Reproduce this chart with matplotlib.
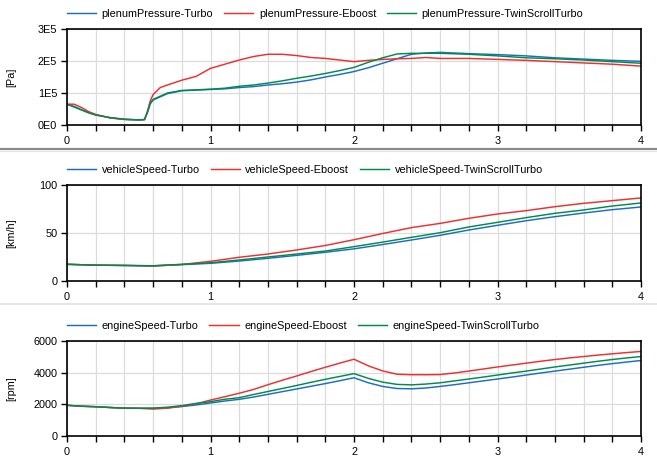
import matplotlib
matplotlib.use("Agg")
import matplotlib.pyplot as plt
from matplotlib.ticker import FixedLocator, FixedFormatter, MultipleLocator

# ---------------- data ----------------
t_pressure = [0, 0.05, 0.1, 0.15, 0.2, 0.3, 0.4, 0.5, 0.54, 0.56, 0.58, 0.6, 0.65, 0.7,
              0.8, 0.9, 1.0, 1.1, 1.2, 1.3, 1.4, 1.5, 1.6, 1.7, 1.8, 1.9, 2.0, 2.1, 2.2,
              2.3, 2.4, 2.5, 2.6, 2.8, 3.0, 3.2, 3.4, 3.6, 3.8, 4.0]
pressure_turbo = [65000, 58000, 48000, 39000, 32000, 23000, 18000, 16000, 17000, 38000,
                  66000, 78000, 88000, 98000, 107000, 109000, 111000, 113000, 117000,
                  120000, 125000, 129000, 134000, 141000, 150000, 158000, 167000, 179000,
                  193000, 207000, 221000, 225000, 227000, 223000, 220000, 216000, 210000,
                  206000, 202000, 199000]
pressure_eboost = [65000, 65000, 55000, 42000, 33000, 22000, 17000, 16000, 17000, 42000,
                   75000, 95000, 117000, 125000, 140000, 152000, 177000, 190000, 203000,
                   214000, 221000, 221000, 217000, 211000, 208000, 203000, 198000, 202000,
                   205000, 207000, 208000, 211000, 208000, 208000, 205000, 202000, 198000,
                   194000, 190000, 184000]
pressure_twin = [65000, 56000, 47000, 38000, 31000, 23000, 18000, 16000, 17000, 40000,
                 68000, 80000, 90000, 100000, 108000, 110000, 112000, 115000, 121000,
                 125000, 131000, 138000, 146000, 153000, 161000, 170000, 180000, 196000,
                 210000, 222000, 224000, 224000, 224000, 221000, 216000, 210000, 207000,
                 203000, 198000, 193000]

t_vehicle = [0, 0.2, 0.4, 0.6, 0.8, 1.0, 1.2, 1.4, 1.6, 1.8, 2.0, 2.2, 2.4, 2.6, 2.8,
             3.0, 3.2, 3.4, 3.6, 3.8, 4.0]
vehicle_turbo = [17.4, 16.5, 16.2, 15.8, 17.0, 18.4, 20.8, 23.6, 26.7, 29.9, 33.5, 38.0,
                 42.7, 47.6, 53.1, 58.0, 62.8, 67.0, 70.8, 74.3, 77.1]
vehicle_eboost = [17.4, 16.5, 16.2, 15.5, 17.2, 20.5, 24.7, 28.1, 32.3, 37.0, 43.0, 49.5,
                  55.6, 60.0, 65.3, 69.8, 73.3, 77.4, 80.9, 83.7, 86.5]
vehicle_twin = [17.4, 16.5, 16.2, 15.9, 17.4, 19.0, 21.9, 25.0, 28.1, 31.2, 35.8, 40.5,
                45.5, 50.3, 56.3, 61.1, 66.0, 70.5, 74.0, 78.1, 81.3]

t_engine = [0, 0.1, 0.2, 0.3, 0.4, 0.5, 0.6, 0.7, 0.8, 0.9, 1.0, 1.1, 1.2, 1.3, 1.4, 1.5,
            1.6, 1.7, 1.8, 1.9, 2.0, 2.1, 2.2, 2.3, 2.4, 2.5, 2.6, 2.7, 2.8, 2.9, 3.0,
            3.1, 3.2, 3.3, 3.4, 3.5, 3.6, 3.7, 3.8, 3.9, 4.0]
engine_turbo = [1940, 1880, 1850, 1800, 1760, 1750, 1750, 1780, 1860, 1960, 2085, 2210,
                2315, 2460, 2630, 2800, 2970, 3140, 3310, 3490, 3680, 3360, 3130, 3000,
                2980, 3030, 3130, 3240, 3360, 3480, 3600, 3720, 3850, 3980, 4100, 4220,
                4340, 4460, 4570, 4670, 4770]
engine_eboost = [1940, 1880, 1850, 1800, 1760, 1750, 1700, 1760, 1880, 2030, 2270, 2480,
                 2700, 2940, 3240, 3520, 3790, 4070, 4340, 4600, 4850, 4430, 4110, 3900,
                 3870, 3870, 3880, 3980, 4100, 4230, 4360, 4480, 4600, 4720, 4830, 4930,
                 5020, 5110, 5190, 5270, 5340]
engine_twin = [1940, 1880, 1850, 1800, 1760, 1750, 1760, 1820, 1920, 2060, 2170, 2320,
               2420, 2620, 2810, 3000, 3190, 3390, 3580, 3760, 3940, 3640, 3400, 3260,
               3230, 3280, 3360, 3480, 3600, 3720, 3850, 3980, 4100, 4230, 4360, 4480,
               4600, 4720, 4830, 4930, 5020]

series_suffix = ["Turbo", "Eboost", "TwinScrollTurbo"]
x_ticks = [0, 1, 2, 3, 4]
pressure_ticks = [0, 100000, 200000, 300000]
pressure_ticklabels = ["0E0", "1E5", "2E5", "3E5"]
vehicle_ticks = [0, 50, 100]
engine_ticks = [0, 2000, 4000, 6000]

# ---------------- style ----------------
colors = ["#1C6CC8", "#EE2E2F", "#008C48"]
FS = 7.8
plt.rcParams['font.family'] = ['Liberation Sans', 'DejaVu Sans']
plt.rcParams['font.size'] = FS

W, H = 657, 459
fig = plt.figure(figsize=(W / 100, H / 100), dpi=100)
fig.patch.set_facecolor("white")

left = 67 / W
width = 574 / W
panels = [
    dict(rect=[left, 334 / H, width, 96 / H], t=t_pressure,
         ys=[pressure_turbo, pressure_eboost, pressure_twin], name="plenumPressure",
         unit="[Pa]", ylim=(0, 300000), yticks=pressure_ticks, ylabels=pressure_ticklabels),
    dict(rect=[left, 178 / H, width, 96 / H], t=t_vehicle,
         ys=[vehicle_turbo, vehicle_eboost, vehicle_twin], name="vehicleSpeed",
         unit="[km/h]", ylim=(0, 100), yticks=vehicle_ticks,
         ylabels=[str(v) for v in vehicle_ticks]),
    dict(rect=[left, 23 / H, width, 95 / H], t=t_engine,
         ys=[engine_turbo, engine_eboost, engine_twin], name="engineSpeed",
         unit="[rpm]", ylim=(0, 6000), yticks=engine_ticks,
         ylabels=[str(v) for v in engine_ticks]),
]

for p in panels:
    ax = fig.add_axes(p["rect"])
    for ys, c, suf in zip(p["ys"], colors, series_suffix):
        ax.plot(p["t"], ys, color=c, lw=1.05, label=f"{p['name']}-{suf}")
    ax.set_xlim(0, 4)
    ax.set_ylim(*p["ylim"])
    ax.xaxis.set_major_locator(FixedLocator(x_ticks))
    ax.xaxis.set_minor_locator(MultipleLocator(0.2))
    ax.yaxis.set_major_locator(FixedLocator(p["yticks"]))
    ax.yaxis.set_major_formatter(FixedFormatter(p["ylabels"]))
    ax.grid(True, which="both", axis="x", color="#dcdcdc", lw=0.9)
    ax.grid(True, which="major", axis="y", color="#dcdcdc", lw=0.9)
    ax.set_axisbelow(True)
    ax.tick_params(axis="both", which="both", direction="out", length=4, width=1.0,
                   color="black", labelsize=FS, pad=3)
    ax.tick_params(axis="x", which="both", pad=4)
    for s in ax.spines.values():
        s.set_linewidth(1.2)
        s.set_color("black")
    ax.set_ylabel(p["unit"], fontsize=FS)
    ax.yaxis.set_label_coords(-0.088, 0.5)
    ax.legend(loc="center left", bbox_to_anchor=(0, 1.16 if p["name"] != "vehicleSpeed" else 1.156),
              ncol=3, frameon=False, fontsize=FS, handlelength=2.7, handletextpad=0.5,
              columnspacing=1.0, borderaxespad=0, borderpad=0)

# separators between panels
for yp, c, lw in [(148.5, "#8a8a8a", 1.6), (150.5, "#e4e4e4", 0.8),
                  (303.5, "#e0e0e0", 1.2)]:
    fig.add_artist(plt.Line2D([0, 1], [1 - yp / H, 1 - yp / H], transform=fig.transFigure,
                              color=c, lw=lw))

fig.savefig("out.png", dpi=100, facecolor="white")
